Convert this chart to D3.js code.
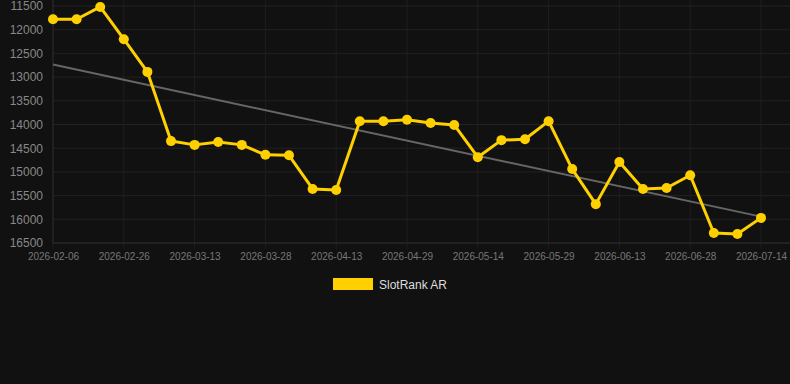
<!DOCTYPE html>
<html>
<head>
<meta charset="utf-8">
<script src="https://cdn.jsdelivr.net/npm/d3@7"></script>
<style>
  html, body { margin: 0; padding: 0; background: #111111; }
  svg { display: block; }
</style>
</head>
<body>
<svg id="chart" width="790" height="384"></svg>
<script>
const dates = [
  "2026-02-06","2026-02-13","2026-02-19","2026-02-26","2026-03-03","2026-03-08",
  "2026-03-13","2026-03-18","2026-03-23","2026-03-28","2026-04-02","2026-04-08",
  "2026-04-13","2026-04-18","2026-04-24","2026-04-29","2026-05-04","2026-05-09",
  "2026-05-14","2026-05-19","2026-05-24","2026-05-29","2026-06-03","2026-06-08",
  "2026-06-13","2026-06-18","2026-06-23","2026-06-28","2026-07-03","2026-07-09",
  "2026-07-14"
];
const rankValues = [
  11780, 11780, 11520, 12200, 12890, 14350,
  14430, 14370, 14430, 14640, 14650, 15360,
  15380, 13930, 13930, 13900, 13970, 14010,
  14690, 14330, 14310, 13930, 14940, 15680,
  14790, 15360, 15340, 15070, 16290, 16310,
  15970
];
const yTicks = [11500, 12000, 12500, 13000, 13500, 14000, 14500, 15000, 15500, 16000, 16500];
const xTickLabels = ["2026-02-06","2026-02-26","2026-03-13","2026-03-28","2026-04-13","2026-04-29",
  "2026-05-14","2026-05-29","2026-06-13","2026-06-28","2026-07-14"];
const seriesName = "SlotRank AR";

(function () {
const svg = d3.select("#chart");
const pLeft = 53, pRight = 761, plotRight = 790, pTop = 6, pBottom = 243;

const x = d3.scalePoint().domain(dates).range([pLeft, pRight]);
const y = d3.scaleLinear().domain([11500, 16500]).range([pTop, pBottom]);

// grid
const g = svg.append("g");
g.selectAll(".hg").data(yTicks).enter().append("line")
  .attr("x1", pLeft).attr("x2", plotRight)
  .attr("y1", d => y(d)).attr("y2", d => y(d))
  .attr("stroke", "#222222").attr("stroke-width", 1);
g.selectAll(".vg").data(xTickLabels).enter().append("line")
  .attr("x1", d => x(d)).attr("x2", d => x(d))
  .attr("y1", 0).attr("y2", pBottom + 6)
  .attr("stroke", "#1e1e1e").attr("stroke-width", 1);
g.append("line").attr("x1", pLeft).attr("x2", plotRight).attr("y1", pBottom).attr("y2", pBottom)
  .attr("stroke", "#2a2a2a");
g.append("line").attr("x1", pLeft).attr("x2", pLeft).attr("y1", 0).attr("y2", pBottom)
  .attr("stroke", "#2a2a2a");

// y axis labels
const yAxis = d3.axisLeft(y).tickValues(yTicks).tickFormat(d3.format("d")).tickSize(0).tickPadding(0);
const ya = svg.append("g").attr("transform", `translate(${pLeft - 10},0)`).call(yAxis);
ya.select(".domain").remove();
ya.selectAll("text").attr("fill", "#888888").style("font", "12px 'Liberation Sans', Arial, sans-serif");

// x axis labels
const xAxis = d3.axisBottom(x).tickValues(xTickLabels).tickSize(0).tickPadding(0);
const xa = svg.append("g").attr("transform", `translate(0,${pBottom + 10})`).call(xAxis);
xa.select(".domain").remove();
xa.selectAll("text").attr("fill", "#777777").style("font", "10px 'Liberation Sans', Arial, sans-serif");

// trend line (least squares)
const n = rankValues.length;
const idx = d3.range(n);
const mx = d3.mean(idx), my = d3.mean(rankValues);
const slope = d3.sum(idx, i => (i - mx) * (rankValues[i] - my)) / d3.sum(idx, i => (i - mx) ** 2);
const icpt = my - slope * mx;
svg.append("line")
  .attr("x1", x(dates[0])).attr("y1", y(icpt))
  .attr("x2", x(dates[n - 1])).attr("y2", y(icpt + slope * (n - 1)))
  .attr("stroke", "#666666").attr("stroke-width", 2);

// series line
const line = d3.line().x((d, i) => x(dates[i])).y(d => y(d));
svg.append("path").datum(rankValues)
  .attr("d", line).attr("fill", "none")
  .attr("stroke", "#FFD000").attr("stroke-width", 3).attr("stroke-linejoin", "round");
svg.selectAll(".pt").data(rankValues).enter().append("circle")
  .attr("cx", (d, i) => x(dates[i])).attr("cy", d => y(d)).attr("r", 5)
  .attr("fill", "#FFD000");

// legend
const lg = svg.append("g");
lg.append("rect").attr("x", 333).attr("y", 278).attr("width", 40).attr("height", 12).attr("fill", "#FFD000");
lg.append("text").attr("x", 379).attr("y", 288.5).text(seriesName)
  .attr("fill", "#dddddd").style("font", "12px 'Liberation Sans', Arial, sans-serif");
})();
</script>
</body>
</html>
